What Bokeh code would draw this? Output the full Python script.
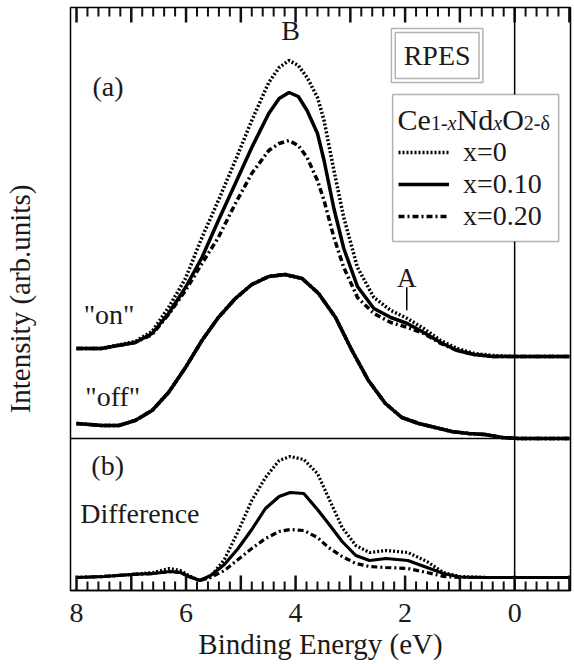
import numpy as np
from bokeh.plotting import figure
from bokeh.models import (Range1d, FixedTicker, Span, Label, Legend,
                          LegendItem, BoxAnnotation)
from bokeh.embed import file_html
from bokeh.resources import INLINE

# ---------------- data ----------------
series_names = ["x=0", "x=0.10", "x=0.20"]

# "on"-resonance spectra, panel (a)
on_energy = [8.0, 7.55, 6.93, 6.62, 6.32, 6.01, 5.71, 5.41, 5.10, 4.80,
             4.49, 4.30, 4.12, 3.95, 3.79, 3.60, 3.48, 3.30, 3.12, 2.87,
             2.57, 2.26, 1.96, 1.66, 1.35, 1.05, 0.74, 0.40, 0.0, -0.5, -1.0]
on_x000 = [2.42, 2.42, 2.49, 2.59, 2.83, 3.12, 3.53, 3.90, 4.30, 4.70,
           5.08, 5.23, 5.30, 5.25, 5.13, 4.93, 4.70, 4.20, 3.73, 3.23,
           2.93, 2.80, 2.72, 2.62, 2.50, 2.42, 2.37, 2.35, 2.34, 2.34, 2.34]
on_x010 = [2.42, 2.42, 2.48, 2.57, 2.77, 3.03, 3.33, 3.70, 4.07, 4.43,
           4.77, 4.92, 4.98, 4.94, 4.80, 4.57, 4.30, 3.82, 3.42, 3.04,
           2.82, 2.73, 2.67, 2.58, 2.48, 2.40, 2.36, 2.34, 2.34, 2.34, 2.34]
on_x020 = [2.42, 2.42, 2.48, 2.56, 2.76, 3.00, 3.27, 3.53, 3.87, 4.17,
           4.40, 4.47, 4.50, 4.45, 4.33, 4.10, 3.90, 3.53, 3.23, 2.93,
           2.77, 2.68, 2.63, 2.57, 2.47, 2.40, 2.36, 2.34, 2.34, 2.34, 2.34]

# "off"-resonance spectrum (all three samples coincide)
off_energy = [8.0, 7.54, 7.23, 6.93, 6.62, 6.32, 6.01, 5.71, 5.41, 5.10,
              4.80, 4.49, 4.19, 3.88, 3.58, 3.27, 2.97, 2.67, 2.36, 2.06,
              1.75, 1.45, 1.15, 0.84, 0.54, 0.23, -0.07, -0.5, -1.0]
off_all = [1.67, 1.65, 1.65, 1.70, 1.80, 1.98, 2.23, 2.50, 2.73, 2.92,
           3.06, 3.14, 3.16, 3.12, 2.97, 2.73, 2.40, 2.10, 1.87, 1.73,
           1.67, 1.63, 1.59, 1.57, 1.56, 1.53, 1.52, 1.52, 1.52]

# difference spectra, panel (b)
diff_energy = [8.0, 7.5, 7.0, 6.6, 6.3, 6.1, 5.95, 5.75, 5.55, 5.3,
               5.05, 4.8, 4.55, 4.3, 4.1, 3.85, 3.6, 3.4, 3.15, 2.9,
               2.65, 2.35, 1.95, 1.6, 1.3, 1.0, 0.5, 0.0, -0.5, -1.0]
diff_x000 = [0.13, 0.14, 0.16, 0.18, 0.22, 0.20, 0.15, 0.10, 0.14, 0.31,
             0.59, 0.90, 1.13, 1.30, 1.34, 1.31, 1.17, 0.93, 0.63, 0.45,
             0.38, 0.40, 0.38, 0.29, 0.18, 0.14, 0.13, 0.13, 0.13, 0.13]
diff_x010 = [0.13, 0.14, 0.16, 0.17, 0.19, 0.18, 0.14, 0.10, 0.15, 0.26,
             0.42, 0.61, 0.82, 0.94, 0.98, 0.97, 0.81, 0.67, 0.49, 0.35,
             0.30, 0.32, 0.30, 0.23, 0.17, 0.135, 0.13, 0.13, 0.13, 0.13]
diff_x020 = [0.13, 0.14, 0.16, 0.17, 0.19, 0.18, 0.14, 0.10, 0.13, 0.20,
             0.31, 0.42, 0.52, 0.59, 0.61, 0.60, 0.53, 0.43, 0.34, 0.27,
             0.24, 0.23, 0.22, 0.18, 0.14, 0.13, 0.13, 0.13, 0.13, 0.13]

x_labeled_ticks = [8, 6, 4, 2, 0]
x_odd_ticks = [7, 5, 3, 1, -1]

peak_A_energy = 1.97
peak_B_energy = 4.09

# ---------------- figure ----------------
FONT = "Liberation Serif"
TXT = "#1a1a1a"
Y_LO, Y_HI = 0.0, 5.83

p = figure(width=574, height=664, x_range=Range1d(8.11, -1.02),
           y_range=Range1d(Y_LO, Y_HI), output_backend="svg",
           toolbar_location=None, min_border_left=70, min_border_right=4,
           min_border_top=7, min_border_bottom=74)
p.background_fill_color = "white"
p.border_fill_color = "white"
p.outline_line_color = "black"
p.outline_line_width = 1.5
p.xgrid.visible = False
p.ygrid.visible = False

minor_vals = [float(round(v, 1)) for v in np.arange(-1.0, 8.11, 0.2)
              if abs(v - round(v)) > 1e-6]
major_vals = [float(v) for v in x_labeled_ticks + x_odd_ticks]

xa = p.xaxis[0]
xa.ticker = FixedTicker(ticks=x_labeled_ticks)
xa.major_tick_line_color = None
xa.minor_tick_line_color = None
xa.axis_line_width = 1.5
xa.major_label_text_font = FONT
xa.major_label_text_font_size = "28px"
xa.major_label_text_color = TXT
xa.major_label_standoff = 7
xa.axis_label = "Binding Energy (eV)"
xa.axis_label_text_font = FONT
xa.axis_label_text_font_size = "29px"
xa.axis_label_text_font_style = "normal"
xa.axis_label_text_color = TXT
xa.axis_label_standoff = 3

ya = p.yaxis[0]
ya.ticker = FixedTicker(ticks=[])
ya.axis_line_color = None
ya.major_tick_line_color = None
ya.minor_tick_line_color = None
ya.axis_label = "Intensity (arb.units)"
ya.axis_label_text_font = FONT
ya.axis_label_text_font_size = "29px"
ya.axis_label_text_font_style = "normal"
ya.axis_label_text_color = TXT
ya.axis_label_standoff = 35

# reference lines
p.add_layout(Span(location=0, dimension="height", line_color="black", line_width=1.5))
p.add_layout(Span(location=1.52, dimension="width", line_color="black", line_width=1.5))

styles = [dict(line_dash="2 2"), dict(line_dash="solid"), dict(line_dash="6 3 2 3")]
on_vals = [on_x000, on_x010, on_x020]
diff_vals = [diff_x000, diff_x010, diff_x020]
order = [0, 2, 1]

on_renderers = {}
for i in order:
    p.line(off_energy, off_all, line_color="black", line_width=3.5, **styles[i])
for i in order:
    on_renderers[i] = p.line(on_energy, on_vals[i], line_color="black",
                             line_width=3.5, **styles[i])
for i in order:
    p.line(diff_energy, diff_vals[i], line_color="black", line_width=3.2, **styles[i])

# inward tick marks on bottom and top edges (drawn from the tick lists)
MAJ, MIN = 0.15, 0.09
for y0, sgn in ((Y_LO, 1), (Y_HI, -1)):
    p.segment(x0=major_vals, y0=[y0] * len(major_vals), x1=major_vals,
              y1=[y0 + sgn * MAJ] * len(major_vals), line_color="#111111",
              line_width=2.5)
    p.segment(x0=minor_vals, y0=[y0] * len(minor_vals), x1=minor_vals,
              y1=[y0 + sgn * MIN] * len(minor_vals), line_color="#111111",
              line_width=2.0)

# peak marker for A
a_curve = float(np.interp(peak_A_energy, on_energy[::-1], on_x000[::-1]))
p.segment(x0=[peak_A_energy], y0=[a_curve + 0.08], x1=[peak_A_energy],
          y1=[a_curve + 0.31], line_color="black", line_width=1.5)

def add_text(x, y, text, size="28px", align="left", style="normal"):
    p.add_layout(Label(x=x, y=y, text=text, text_font=FONT, text_font_size=size,
                       text_align=align, text_baseline="alphabetic",
                       text_color=TXT, text_font_style=style))

add_text(peak_A_energy, 3.13, "A", size="27px", align="center")
add_text(peak_B_energy, 5.60, "B", size="28px", align="center")
add_text(7.71, 5.04, "(a)")
add_text(7.87, 2.76, '"on"')
add_text(7.84, 1.94, '"off"')
add_text(7.73, 1.25, "(b)")
add_text(7.93, 0.77, "Difference")

# RPES double box
p.add_layout(BoxAnnotation(left=2.25, right=0.58, top=5.62, bottom=5.08,
                           fill_color=None, line_color="black", line_width=1.5))
p.add_layout(BoxAnnotation(left=2.18, right=0.65, top=5.58, bottom=5.12,
                           fill_color=None, line_color="black", line_width=1.5))
p.add_layout(Label(x=1.415, y=5.35, text="RPES", text_font=FONT, text_font_size="28px",
                   text_align="center", text_baseline="middle", text_color=TXT))

# legend frame (white box covering the x=0 line), legend items, formula title
p.add_layout(BoxAnnotation(left=2.228, right=-0.804, top=4.96, bottom=3.49,
                           fill_color="white", fill_alpha=1.0,
                           line_color="black", line_width=1.5))
legend = Legend(items=[LegendItem(label=series_names[i], renderers=[on_renderers[i]])
                       for i in range(3)],
                location=(328, 358),
                label_text_font=FONT, label_text_font_size="28px",
                label_text_color=TXT,
                padding=4, spacing=0, label_height=30, glyph_height=30,
                glyph_width=51, label_standoff=14, margin=0,
                border_line_color=None, background_fill_alpha=0.0)
p.add_layout(legend)

formula = [("Ce", 2.137, "30px", "normal", 4.71),
           ("1-", 1.529, "20px", "normal", 4.68),
           ("x", 1.224, "20px", "italic", 4.68),
           ("Nd", 1.061, "30px", "normal", 4.71),
           ("x", 0.391, "20px", "italic", 4.68),
           ("O", 0.228, "30px", "normal", 4.71),
           ("2-δ", -0.168, "20px", "normal", 4.68)]
for t, fx, fs, st, fy in formula:
    add_text(fx, fy, t, size=fs, style=st)

open("out.html", "w").write(file_html(p, INLINE))
